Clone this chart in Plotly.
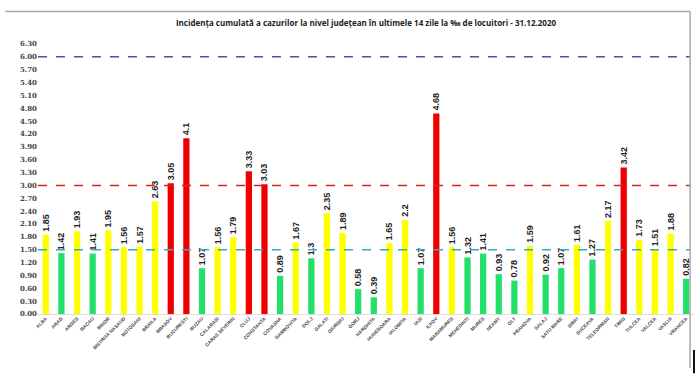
import plotly.graph_objects as go

counties = ["ALBA", "ARAD", "ARGES", "BACAU", "BIHOR", "BISTRITA NASAUD", "BOTOSANI",
            "BRAILA", "BRASOV", "BUCURESTI", "BUZAU", "CALARASI", "CARAS SEVERIN", "CLUJ",
            "CONSTANTA", "COVASNA", "DAMBOVITA", "DOLJ", "GALATI", "GIURGIU", "GORJ",
            "HARGHITA", "HUNEDOARA", "IALOMITA", "IASI", "ILFOV", "MARAMURES", "MEHEDINTI",
            "MURES", "NEAMT", "OLT", "PRAHOVA", "SALAJ", "SATU MARE", "SIBIU", "SUCEAVA",
            "TELEORMAN", "TIMIS", "TULCEA", "VALCEA", "VASLUI", "VRANCEA"]
values = [1.85, 1.42, 1.93, 1.41, 1.95, 1.56, 1.57, 2.63, 3.05, 4.1, 1.07, 1.56, 1.79, 3.33,
          3.03, 0.89, 1.67, 1.3, 2.35, 1.89, 0.58, 0.39, 1.65, 2.2, 1.07, 4.68, 1.56, 1.32,
          1.41, 0.93, 0.78, 1.59, 0.92, 1.07, 1.61, 1.27, 2.17, 3.42, 1.73, 1.51, 1.88, 0.82]
thresholds = [1.5, 3.0, 6.0]
ytick_vals = [round(i * 0.3, 2) for i in range(22)]

GREEN, YELLOW, RED = "#22e06a", "#ffff00", "#ee0000"
colors = [GREEN if v < thresholds[0] else (YELLOW if v < thresholds[1] else RED) for v in values]

fig = go.Figure()
fig.add_trace(go.Bar(
    x=counties, y=values, marker=dict(color=colors, line=dict(width=0)),
    text=[str(v) for v in values], textposition="outside", textangle=-90,
    constraintext="none",
    textfont=dict(family="Liberation Sans", size=9, color="#222222", weight="bold"),
    cliponaxis=False, hoverinfo="x+y",
))

line_colors = ["#33aacc", "#dd2222", "#7040a0"]
for t, c in zip(thresholds, line_colors):
    fig.add_shape(type="line", xref="paper", yref="y", x0=0, x1=0.995, y0=t, y1=t,
                  line=dict(color=c, width=1.5, dash="dash"), layer="above")

# outer frame lines (figure border of the original screenshot)
fig.add_shape(type="line", xref="paper", yref="paper", x0=-0.05, x1=0.994, y0=1.12, y1=1.12,
              line=dict(color="#a8a8a8", width=1.5))
fig.add_shape(type="line", xref="paper", yref="paper", x0=0.994, x1=0.994, y0=1.12, y1=-0.2,
              line=dict(color="#a8a8a8", width=1.5))
fig.add_shape(type="line", xref="paper", yref="paper", x0=1.0, x1=1.0, y0=-0.133, y1=-0.219,
              line=dict(color="#111111", width=2))

fig.update_layout(
    width=700, height=385,
    margin=dict(l=38, r=6, t=44, b=71, autoexpand=False),
    paper_bgcolor="white", plot_bgcolor="white",
    showlegend=False, bargap=0.6,
    title=dict(text="Incidența cumulată a cazurilor la nivel județean în ultimele 14 zile la ‰ de locuitori - 31.12.2020",
               x=0.5, xref="paper", y=0.94, yref="container", yanchor="middle", automargin=False,
               font=dict(family="Open Sans", size=8, color="#222222", weight="bold")),
    xaxis=dict(type="category", tickangle=-45, showgrid=False, showline=False, ticks="",
               automargin=False,
               tickfont=dict(family="Liberation Sans", size=4.8, color="#444444", weight="bold"),
               range=[-0.5, len(counties) - 0.5]),
    yaxis=dict(range=[0, 6.3], tickvals=ytick_vals, tickformat=".2f", showgrid=False,
               automargin=False,
               zeroline=True, zerolinecolor="#dddddd", zerolinewidth=1, showline=False,
               ticks="", tickfont=dict(family="DejaVu Serif", size=7, color="#444444", weight="bold")),
)

fig.write_html("out.html", config={"displayModeBar": False},
               post_script="document.body.style.margin='0px';")
